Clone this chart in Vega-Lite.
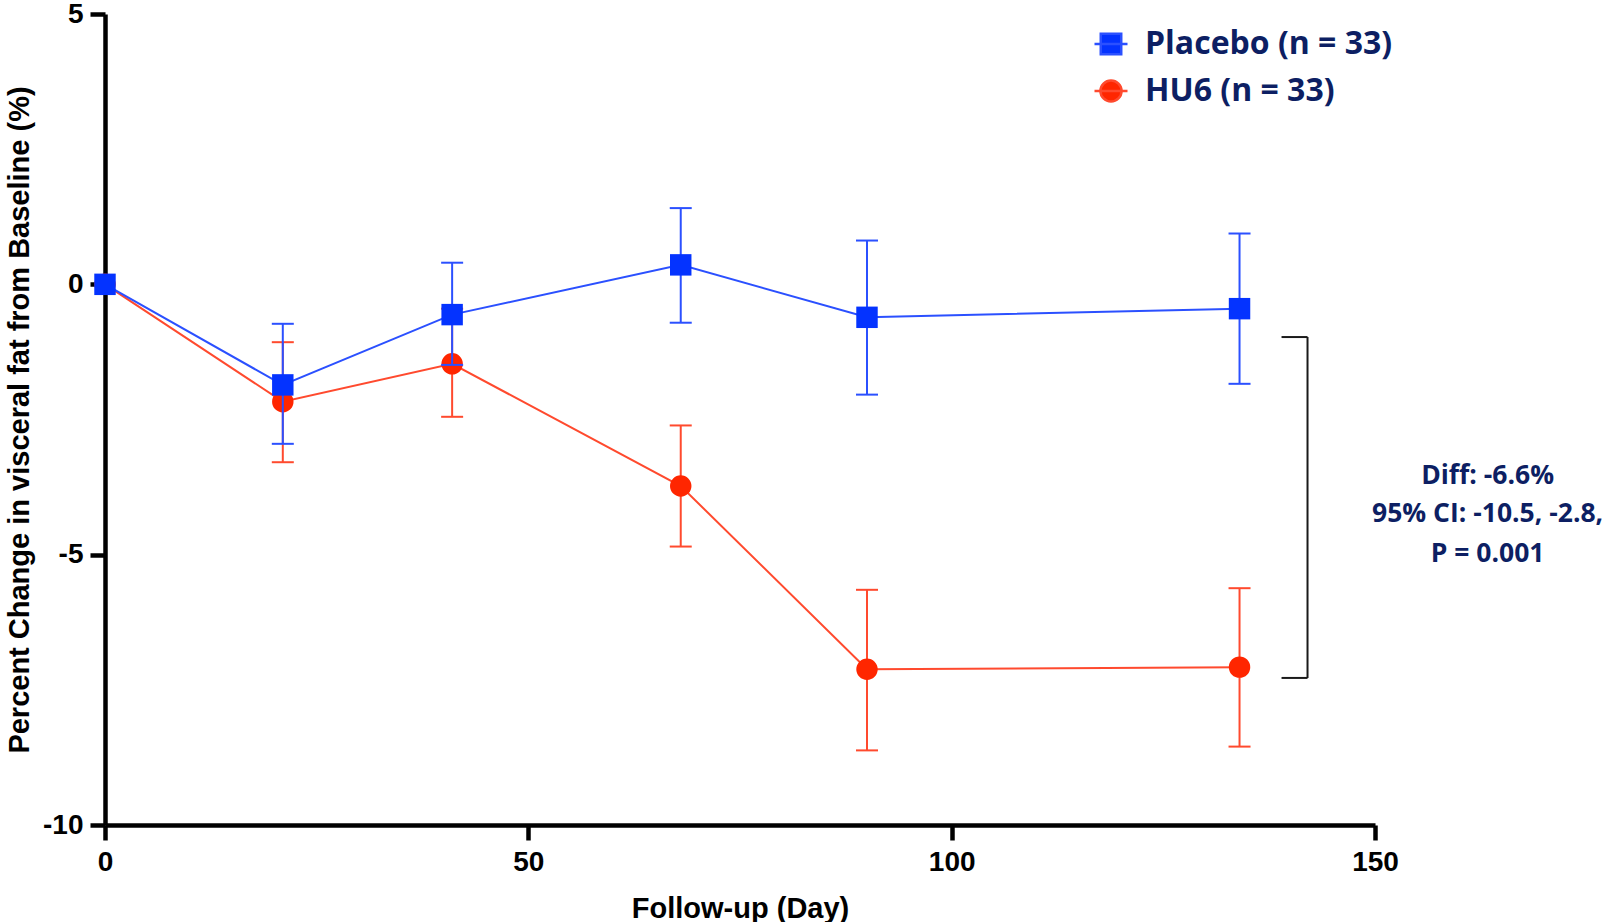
{
  "$schema": "https://vega.github.io/schema/vega-lite/v6.json",
  "width": 1270,
  "height": 811,
  "autosize": {"type": "none"},
  "padding": {"left": 105, "top": 14, "right": 231, "bottom": 97},
  "background": "white",
  "config": {
    "view": {"stroke": null},
    "axis": {
      "grid": false,
      "domainColor": "black",
      "domainWidth": 4.5,
      "tickColor": "black",
      "tickWidth": 4.5,
      "tickSize": 15,
      "labelFont": "Liberation Sans",
      "labelFontWeight": "bold",
      "labelFontSize": 28,
      "labelColor": "black",
      "titleFont": "Liberation Sans",
      "titleFontWeight": "bold",
      "titleFontSize": 29,
      "titleColor": "black",
      "labelFlush": false
    }
  },
  "datasets": {
    "series": [
      {"group": "Placebo (n = 33)", "day": 0, "mean": 0},
      {"group": "Placebo (n = 33)", "day": 21, "mean": -1.86, "lo": -2.95, "hi": -0.73},
      {"group": "Placebo (n = 33)", "day": 41, "mean": -0.56, "lo": -1.49, "hi": 0.4},
      {"group": "Placebo (n = 33)", "day": 68, "mean": 0.36, "lo": -0.71, "hi": 1.41},
      {"group": "Placebo (n = 33)", "day": 90, "mean": -0.61, "lo": -2.04, "hi": 0.81},
      {"group": "Placebo (n = 33)", "day": 134, "mean": -0.45, "lo": -1.84, "hi": 0.94},
      {"group": "HU6 (n = 33)", "day": 0, "mean": 0},
      {"group": "HU6 (n = 33)", "day": 21, "mean": -2.17, "lo": -3.29, "hi": -1.07},
      {"group": "HU6 (n = 33)", "day": 41, "mean": -1.47, "lo": -2.45, "hi": -0.45},
      {"group": "HU6 (n = 33)", "day": 68, "mean": -3.73, "lo": -4.85, "hi": -2.61},
      {"group": "HU6 (n = 33)", "day": 90, "mean": -7.12, "lo": -8.62, "hi": -5.65},
      {"group": "HU6 (n = 33)", "day": 134, "mean": -7.08, "lo": -8.55, "hi": -5.62}
    ],
    "bracket": [
      {"bx": 138.96, "bx2": 142.03, "by": -0.975, "by2": -0.975},
      {"bx": 142.03, "bx2": 142.03, "by": -0.975, "by2": -7.28},
      {"bx": 138.96, "bx2": 142.03, "by": -7.28, "by2": -7.28}
    ],
    "note": [
      {"tx": 163.3, "ty": -3.545, "line": "Diff: -6.6%"},
      {"tx": 163.3, "ty": -4.24, "line": "95% CI: -10.5, -2.8,"},
      {"tx": 163.3, "ty": -4.99, "line": "P = 0.001"}
    ]
  },
  "data": {"name": "series"},
  "encoding": {
    "x": {
      "field": "day",
      "type": "quantitative",
      "title": "Follow-up (Day)",
      "scale": {"domain": [0, 150], "nice": false, "zero": false},
      "axis": {"values": [0, 50, 100, 150], "labelPadding": 8, "titlePadding": 18, "labelExpr": "toString(datum.value)"}
    },
    "y": {
      "field": "mean",
      "type": "quantitative",
      "title": "Percent Change in visceral fat from Baseline (%)",
      "scale": {"domain": [-10, 5], "nice": false, "zero": false},
      "axis": {"values": [-10, -5, 0, 5], "labelPadding": 7, "titlePadding": 8, "labelExpr": "toString(datum.value)"}
    }
  },
  "layer": [
    {
      "transform": [{"filter": "datum.group === 'HU6 (n = 33)'"}],
      "mark": {"type": "line", "color": "#FF4A2E", "strokeWidth": 2}
    },
    {
      "transform": [{"filter": "datum.group === 'HU6 (n = 33)' && isValid(datum.lo)"}],
      "mark": {"type": "rule", "color": "#FF4A2E", "strokeWidth": 2},
      "encoding": {
        "y": {"field": "lo", "type": "quantitative", "title": "Percent Change in visceral fat from Baseline (%)"},
        "y2": {"field": "hi"}
      }
    },
    {
      "transform": [{"filter": "datum.group === 'HU6 (n = 33)' && isValid(datum.lo)"}],
      "mark": {"type": "tick", "orient": "horizontal", "color": "#FF4A2E", "size": 22, "thickness": 2, "opacity": 1},
      "encoding": {"y": {"field": "lo", "type": "quantitative", "title": "Percent Change in visceral fat from Baseline (%)"}}
    },
    {
      "transform": [{"filter": "datum.group === 'HU6 (n = 33)' && isValid(datum.lo)"}],
      "mark": {"type": "tick", "orient": "horizontal", "color": "#FF4A2E", "size": 22, "thickness": 2, "opacity": 1},
      "encoding": {"y": {"field": "hi", "type": "quantitative", "title": "Percent Change in visceral fat from Baseline (%)"}}
    },
    {
      "transform": [{"filter": "datum.group === 'HU6 (n = 33)'"}],
      "mark": {"type": "circle", "color": "#FF2600", "size": 460, "opacity": 1}
    },
    {
      "transform": [{"filter": "datum.group === 'Placebo (n = 33)'"}],
      "mark": {"type": "line", "color": "#2B50FF", "strokeWidth": 2}
    },
    {
      "transform": [{"filter": "datum.group === 'Placebo (n = 33)' && isValid(datum.lo)"}],
      "mark": {"type": "rule", "color": "#2B50FF", "strokeWidth": 2},
      "encoding": {
        "y": {"field": "lo", "type": "quantitative", "title": "Percent Change in visceral fat from Baseline (%)"},
        "y2": {"field": "hi"}
      }
    },
    {
      "transform": [{"filter": "datum.group === 'Placebo (n = 33)' && isValid(datum.lo)"}],
      "mark": {"type": "tick", "orient": "horizontal", "color": "#2B50FF", "size": 22, "thickness": 2, "opacity": 1},
      "encoding": {"y": {"field": "lo", "type": "quantitative", "title": "Percent Change in visceral fat from Baseline (%)"}}
    },
    {
      "transform": [{"filter": "datum.group === 'Placebo (n = 33)' && isValid(datum.lo)"}],
      "mark": {"type": "tick", "orient": "horizontal", "color": "#2B50FF", "size": 22, "thickness": 2, "opacity": 1},
      "encoding": {"y": {"field": "hi", "type": "quantitative", "title": "Percent Change in visceral fat from Baseline (%)"}}
    },
    {
      "transform": [{"filter": "datum.group === 'Placebo (n = 33)'"}],
      "mark": {"type": "square", "color": "#0433FF", "size": 460, "opacity": 1}
    },
    {
      "data": {"name": "bracket"},
      "mark": {"type": "rule", "color": "#1a1a1a", "strokeWidth": 2},
      "encoding": {
        "x": {"field": "bx", "type": "quantitative", "title": "Follow-up (Day)"},
        "x2": {"field": "bx2"},
        "y": {"field": "by", "type": "quantitative", "title": "Percent Change in visceral fat from Baseline (%)"},
        "y2": {"field": "by2"}
      }
    },
    {
      "data": {"name": "note"},
      "mark": {"type": "text", "font": "Open Sans", "fontWeight": "bold", "fontSize": 26.5, "color": "#0d1f63", "align": "center", "baseline": "middle"},
      "encoding": {
        "x": {"field": "tx", "type": "quantitative", "title": "Follow-up (Day)"},
        "y": {"field": "ty", "type": "quantitative", "title": "Percent Change in visceral fat from Baseline (%)"},
        "text": {"field": "line", "type": "nominal"}
      }
    },
    {
      "transform": [{"filter": "datum.day < 0"}],
      "mark": {"type": "point", "filled": true, "opacity": 1, "strokeWidth": 2.5},
      "encoding": {
        "fill": {
          "field": "group", "type": "nominal",
          "scale": {"domain": ["Placebo (n = 33)", "HU6 (n = 33)"], "range": ["#0433FF", "#FF2600"]},
          "legend": {"title": null, "orient": "none", "legendX": 988, "legendY": 12, "padding": 0, "symbolSize": 1089, "symbolStrokeWidth": 2.5, "labelFont": "Open Sans", "labelFontWeight": "bold", "labelFontSize": 32, "labelColor": "#0d1f63", "labelOffset": 16, "rowPadding": 13, "labelLimit": 400}
        },
        "stroke": {
          "field": "group", "type": "nominal",
          "scale": {"domain": ["Placebo (n = 33)", "HU6 (n = 33)"], "range": ["#2B50FF", "#FF4A2E"]},
          "legend": {"title": null, "orient": "none", "legendX": 988, "legendY": 12, "padding": 0, "symbolSize": 1089, "symbolStrokeWidth": 2.5, "labelFont": "Open Sans", "labelFontWeight": "bold", "labelFontSize": 32, "labelColor": "#0d1f63", "labelOffset": 16, "rowPadding": 13, "labelLimit": 400}
        },
        "shape": {
          "field": "group", "type": "nominal",
          "scale": {"domain": ["Placebo (n = 33)", "HU6 (n = 33)"], "range": ["M-1,0H1M-0.62,-0.62H0.62V0.62H-0.62Z", "M-1,0H1M0.64,0A0.64,0.64 0 1,1 -0.64,0A0.64,0.64 0 1,1 0.64,0Z"]},
          "legend": {"title": null, "orient": "none", "legendX": 988, "legendY": 12, "padding": 0, "symbolSize": 1089, "symbolStrokeWidth": 2.5, "labelFont": "Open Sans", "labelFontWeight": "bold", "labelFontSize": 32, "labelColor": "#0d1f63", "labelOffset": 16, "rowPadding": 13, "labelLimit": 400}
        }
      }
    }
  ]
}
